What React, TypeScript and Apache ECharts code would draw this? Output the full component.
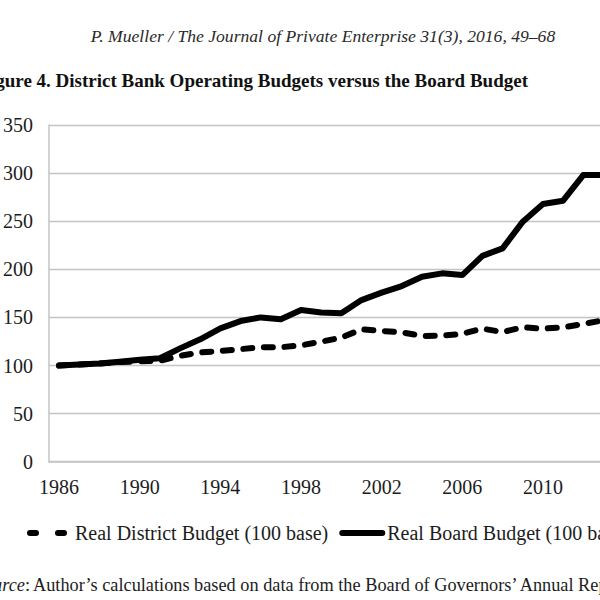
import React, { useEffect, useRef } from "react";
import * as echarts from "echarts";

const years = [
  "1986", "1987", "1988", "1989", "1990", "1991", "1992", "1993", "1994", "1995",
  "1996", "1997", "1998", "1999", "2000", "2001", "2002", "2003", "2004", "2005",
  "2006", "2007", "2008", "2009", "2010", "2011", "2012", "2013",
];
const districtBudget = [
  100, 101, 102, 103.5, 104.5, 105, 110, 113.7, 115, 117,
  119, 119, 121, 124.7, 129, 137.6, 135.9, 134.5, 130.7, 131,
  133, 138.3, 134.8, 139.7, 138.3, 139.7, 143.1, 147,
];
const boardBudget = [
  100, 101, 102, 104, 106, 107.5, 117.8, 127.2, 138.6, 146.2,
  150, 148, 157.7, 155, 154.3, 168, 175.7, 182.6, 192.3, 195.8,
  194, 214, 221.8, 249.5, 267.9, 271.3, 298, 298,
];
const seriesNames = ["Real District Budget (100 base)", "Real Board Budget (100 base)"];
const yMin = 0;
const yMax = 350;
const yStep = 50;

const headerText = "P. Mueller / The Journal of Private Enterprise 31(3), 2016, 49–68";
const titleText = "Figure 4. District Bank Operating Budgets versus the Board Budget";
const sourceText = "Author’s calculations based on data from the Board of Governors’ Annual Reports.";

const FONT = "Liberation Serif";
const INK = "#1c1c1c";
const GRIDC = "#c4c4c4";

export default function App() {
  const ref = useRef<HTMLDivElement>(null);
  useEffect(() => {
    if (!ref.current) return;
    const chart = echarts.init(ref.current, undefined, { renderer: "svg" });
    chart.setOption({
      animation: false,
      backgroundColor: "#ffffff",
      textStyle: { fontFamily: FONT, color: INK },
      grid: { left: 41.7, top: 125, width: 571.8, height: 336.7, containLabel: false },
      xAxis: {
        type: "category",
        data: years,
        boundaryGap: true,
        axisLine: { show: true, lineStyle: { color: GRIDC, width: 1.5 } },
        axisTick: { show: false },
        axisLabel: { interval: 3, margin: 15, fontSize: 20, color: INK, fontFamily: FONT },
        splitLine: { show: false },
      },
      yAxis: {
        type: "value",
        min: yMin,
        max: yMax,
        interval: yStep,
        axisLine: { show: true, lineStyle: { color: GRIDC, width: 1.5 } },
        axisTick: { show: false },
        axisLabel: { margin: 16, fontSize: 20, color: INK, fontFamily: FONT },
        splitLine: { show: true, lineStyle: { color: GRIDC, width: 1.3 } },
      },
      legend: {
        left: 27,
        top: 523,
        padding: 0,
        itemWidth: 40,
        itemHeight: 14,
        itemGap: 11,
        itemStyle: { color: "transparent", borderWidth: 0, opacity: 0 },
        textStyle: { fontSize: 20, color: INK, fontFamily: FONT },
        data: [
          { name: seriesNames[0], lineStyle: { width: 6, type: [6, 22], cap: "round" } },
          { name: seriesNames[1], lineStyle: { width: 6, cap: "round" } },
        ],
      },
      series: [
        {
          name: seriesNames[0],
          type: "line",
          data: districtBudget,
          symbol: "none",
          lineStyle: { color: "#000", width: 6, type: [9, 11.6], cap: "round", join: "round" },
          itemStyle: { color: "#000" },
        },
        {
          name: seriesNames[1],
          type: "line",
          data: boardBudget,
          symbol: "none",
          lineStyle: { color: "#000", width: 6, type: "solid", cap: "round", join: "round" },
          itemStyle: { color: "#000" },
        },
      ],
      graphic: [
        {
          type: "text",
          x: 323,
          y: 36,
          style: {
            text: headerText,
            fontFamily: FONT,
            fontStyle: "italic",
            fontSize: 17.6,
            fill: "#2a2a2a",
            textAlign: "center",
            textVerticalAlign: "middle",
          },
        },
        {
          type: "text",
          x: 528,
          y: 80,
          style: {
            text: titleText,
            fontFamily: FONT,
            fontWeight: "bold",
            fontSize: 19,
            fill: "#111",
            textAlign: "right",
            textVerticalAlign: "middle",
          },
        },
        {
          type: "text",
          x: 30,
          y: 585,
          style: {
            text: "{i|Source}:",
            fontFamily: FONT,
            fontSize: 18.3,
            fill: INK,
            textAlign: "right",
            textVerticalAlign: "middle",
            rich: { i: { fontStyle: "italic", fontFamily: FONT, fontSize: 18.3, fill: INK } },
          },
        },
        {
          type: "text",
          x: 33,
          y: 585,
          style: {
            text: sourceText,
            fontFamily: FONT,
            fontSize: 18.3,
            fill: INK,
            textAlign: "left",
            textVerticalAlign: "middle",
          },
        },
      ],
    });
    return () => chart.dispose();
  }, []);
  return (
    <div style={{ position: "fixed", left: 0, top: 0, width: 600, height: 600, overflow: "hidden", background: "#fff" }}>
      <div ref={ref} style={{ position: "absolute", left: 0, top: 0, width: 720, height: 600 }} />
    </div>
  );
}
